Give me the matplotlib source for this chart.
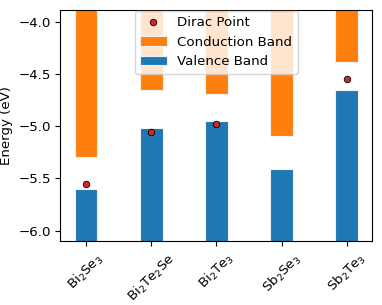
import numpy as np
import matplotlib
matplotlib.use("Agg")
import matplotlib.pyplot as plt

# band edges in eV
materials = ['Bi$_2$Se$_3$', 'Bi$_2$Te$_2$Se', 'Bi$_2$Te$_3$', 'Sb$_2$Se$_3$', 'Sb$_2$Te$_3$']
vb_top = [-5.60, -5.02, -4.95, -5.41, -4.65]
cb_bottom = [-5.30, -4.655, -4.695, -5.09, -4.385]
dirac_x = [0, 1, 2, 4]
dirac_e = [-5.55, -5.06, -4.98, -4.55]

y_low = -7.0
y_high = -3.0

plt.rcParams['font.size'] = 9.6

fig = plt.figure(figsize=(3.82, 3.05), dpi=100)
ax = fig.add_axes([0.158, 0.210, 0.815, 0.758])

x = np.arange(len(materials))
width = 0.35

cb = ax.bar(x, np.array(cb_bottom) - y_high, width, bottom=y_high, color='#ff7f0e',
            edgecolor='#f0f0f0', linewidth=0.8, label='Conduction Band')
vb = ax.bar(x, np.array(vb_top) - y_low, width, bottom=y_low, color='#1f77b4',
            edgecolor='#f0f0f0', linewidth=0.8, label='Valence Band')
dp = ax.scatter(dirac_x, dirac_e, s=22, color='#d62728', edgecolor='black',
                linewidth=0.6, zorder=3, label='Dirac Point')

ax.set_ylim(-6.1, -3.885)
ax.set_xlim(-0.394, 4.38)
ax.set_yticks([-6.0, -5.5, -5.0, -4.5, -4.0])
ax.set_xticks(x)
ax.set_xticklabels(materials, rotation=45)
ax.set_ylabel('Energy (eV)')

ax.legend([dp, cb, vb], ['Dirac Point', 'Conduction Band', 'Valence Band'],
          loc='upper center', bbox_to_anchor=(0.5, 1.025))

fig.savefig('out.png', dpi=100)
